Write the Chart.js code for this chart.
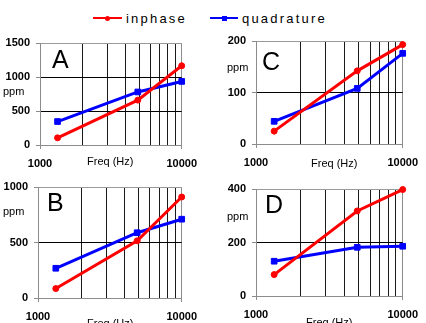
<!DOCTYPE html>
<html>
<head>
<meta charset="utf-8">
<script src="https://cdn.jsdelivr.net/npm/chart.js@4.4.0/dist/chart.umd.min.js"></script>
<style>
  body { margin: 0; background: #fff; }
  #wrap { position: relative; width: 426px; height: 323px; overflow: hidden; background: #fff;
          font-family: "Liberation Sans", Arial, sans-serif; color: #000; }
  canvas { position: absolute; }
  .t { position: absolute; white-space: nowrap; line-height: 1; }
  .ppm { font-size: 11px; line-height: 11px; }
  .freq { font-size: 11px; line-height: 11px; }
  .letter { font-size: 25px; line-height: 25px; }
  .leg { font-size: 13px; line-height: 13px; letter-spacing: 2.2px; }
  .legline { position: absolute; height: 2px; }
</style>
</head>
<body>
<div id="wrap">
  <!-- legend -->
  <div class="legline" style="left:93px;top:17px;width:29px;background:#ff0000"></div>
  <div style="position:absolute;left:105px;top:15.5px;width:5px;height:5px;border-radius:50%;background:#ff0000"></div>
  <div class="t leg" style="left:126px;top:12px">inphase</div>
  <div class="legline" style="left:210px;top:17px;width:28px;background:#0000ff"></div>
  <div style="position:absolute;left:221.5px;top:15.5px;width:5px;height:5px;background:#0000ff"></div>
  <div class="t leg" style="left:242px;top:12px">quadrature</div>

  <canvas id="chartA" width="205" height="142" style="left:0;top:28px"></canvas>
  <canvas id="chartC" width="213" height="142" style="left:213px;top:28px"></canvas>
  <canvas id="chartB" width="205" height="153" style="left:0;top:170px"></canvas>
  <canvas id="chartD" width="213" height="153" style="left:213px;top:170px"></canvas>

  <div class="t letter" style="left:52px;top:47px">A</div>
  <div class="t letter" style="left:262px;top:49px">C</div>
  <div class="t letter" style="left:47px;top:190px">B</div>
  <div class="t letter" style="left:265px;top:192px">D</div>

  <div class="t ppm" style="left:3px;top:86px">ppm</div>
  <div class="t ppm" style="left:227px;top:62px">ppm</div>
  <div class="t ppm" style="left:3px;top:206px">ppm</div>
  <div class="t ppm" style="left:227px;top:211px">ppm</div>

  <div class="t freq" style="left:87px;top:156px">Freq (Hz)</div>
  <div class="t freq" style="left:311px;top:158px">Freq (Hz)</div>
  <div class="t freq" style="left:87px;top:318px">Freq (Hz)</div>
  <div class="t freq" style="left:306px;top:317px">Freq (Hz)</div>
</div>

<script>
// frequencies (Hz)
const freqs = [1330, 4900, 10000];

// panel A
const inphaseA = [105, 660, 1165];
const quadA = [345, 780, 935];
// panel B
const inphaseB = [85, 515, 910];
const quadB = [268, 588, 710];
// panel C
const inphaseC = [25, 142, 193];
const quadC = [44, 108, 176];
// panel D
const inphaseD = [80, 318, 398];
const quadD = [130, 182, 186];

// log axis: grid at every thousand, labels only at the decades
const xGridTicks = [1000, 2000, 3000, 4000, 5000, 6000, 7000, 8000, 9000, 10000];
const xLabelTicks = [1000, 10000];

const tickFont = { family: '"Liberation Sans", Arial, sans-serif', size: 11, weight: 'bold' };

const makePanel = (canvasId, inphase, quad, yMax, yStep, box) => {
    const ctx = document.getElementById(canvasId);
    if (!ctx) return;

    new Chart(ctx, {
        type: 'line',
        data: {
            datasets: [
                {
                    label: 'inphase',
                    data: freqs.map((f, i) => ({ x: f, y: inphase[i] })),
                    borderColor: '#ff0000',
                    backgroundColor: '#ff0000',
                    borderWidth: 3,
                    pointStyle: 'circle',
                    pointRadius: 3,
                    pointBorderWidth: 1,
                    tension: 0,
                    clip: false
                },
                {
                    label: 'quadrature',
                    data: freqs.map((f, i) => ({ x: f, y: quad[i] })),
                    borderColor: '#0000ff',
                    backgroundColor: '#0000ff',
                    borderWidth: 3,
                    pointStyle: 'rect',
                    pointRadius: 4,
                    pointBorderWidth: 1,
                    tension: 0,
                    clip: false
                }
            ]
        },
        options: {
            responsive: false,
            animation: false,
            layout: {
                padding: { left: 0, right: box.right, top: box.top, bottom: 0 }
            },
            plugins: {
                legend: { display: false },
                tooltip: { enabled: false }
            },
            scales: {
                x: {
                    type: 'logarithmic',
                    min: 1000,
                    max: 10000,
                    afterBuildTicks: (s) => { s.ticks = xGridTicks.map(v => ({ value: v })); },
                    afterFit: (s) => { s.height = box.xh; },
                    grid: {
                        color: (c) => (c.tick && (c.tick.value === 10000 || c.tick.value === 1000)) ? '#8c8c8c' : '#1a1a1a',
                        lineWidth: 1,
                        tickLength: 4,
                        tickColor: (c) => (c.tick && xLabelTicks.includes(c.tick.value)) ? '#8c8c8c' : 'rgba(0,0,0,0)'
                    },
                    border: { color: '#8c8c8c', width: 1 },
                    ticks: {
                        autoSkip: false,
                        maxRotation: 0,
                        padding: 8,
                        color: '#000',
                        font: tickFont,
                        callback: (v) => xLabelTicks.includes(v) ? String(v) : ''
                    }
                },
                y: {
                    min: 0,
                    max: yMax,
                    afterFit: (s) => { s.width = box.yw; },
                    grid: {
                        color: (c) => (c.tick && c.tick.value === yMax) ? '#9a9a9a' : '#000',
                        lineWidth: 1,
                        tickLength: 4,
                        tickColor: '#8c8c8c'
                    },
                    border: { color: '#8c8c8c', width: 1 },
                    ticks: {
                        stepSize: yStep,
                        padding: 6,
                        color: '#000',
                        font: tickFont,
                        callback: (v) => String(v)
                    }
                }
            }
        }
    });
};

makePanel('chartA', inphaseA, quadA, 1500, 500, { yw: 40, xh: 25, top: 15, right: 20 });
makePanel('chartC', inphaseC, quadC, 200, 100, { yw: 43, xh: 26, top: 13, right: 16 });
makePanel('chartB', inphaseB, quadB, 1000, 500, { yw: 38, xh: 25, top: 17, right: 20 });
makePanel('chartD', inphaseD, quadD, 400, 200, { yw: 43, xh: 27, top: 19, right: 16 });
</script>
</body>
</html>
